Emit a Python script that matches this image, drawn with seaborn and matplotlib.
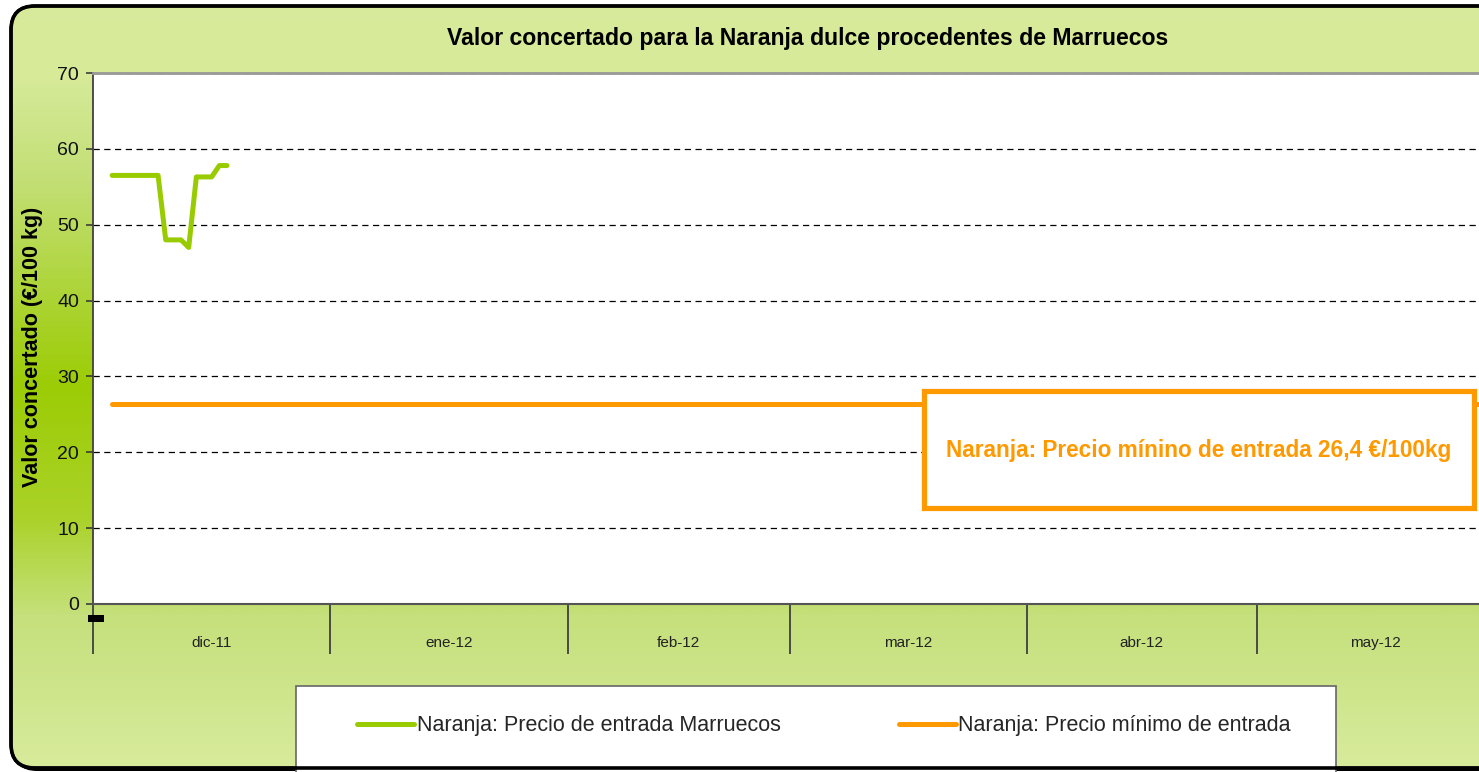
import numpy as np
import pandas as pd
import matplotlib
matplotlib.use("Agg")
import matplotlib.pyplot as plt
import matplotlib.dates as mdates
from matplotlib.patches import Rectangle, FancyBboxPatch
from matplotlib.colors import LinearSegmentedColormap
import seaborn as sns

# data
price_dates = ["2011-12-03", "2011-12-04", "2011-12-05", "2011-12-06", "2011-12-07",
               "2011-12-08", "2011-12-09", "2011-12-10", "2011-12-11", "2011-12-12",
               "2011-12-13", "2011-12-14", "2011-12-15", "2011-12-16", "2011-12-17",
               "2011-12-18"]
price_values = [56.5, 56.5, 56.5, 56.5, 56.5, 56.5, 56.5, 48.0, 48.0, 48.0,
                47.0, 56.3, 56.3, 56.3, 57.8, 57.8]
min_dates = ["2011-12-03", "2012-05-31"]
min_values = [26.4, 26.4]
month_starts = ["2011-12-01", "2012-01-01", "2012-02-01", "2012-03-01",
                "2012-04-01", "2012-05-01", "2012-06-01"]
month_labels = ["dic-11", "ene-12", "feb-12", "mar-12", "abr-12", "may-12"]
y_ticks = [0, 10, 20, 30, 40, 50, 60, 70]

title = "Valor concertado para la Naranja dulce procedentes de Marruecos"
y_label = "Valor concertado (€/100 kg)"
label_price = "Naranja: Precio de entrada Marruecos"
label_min = "Naranja: Precio mínimo de entrada"
note = "Naranja: Precio mínino de entrada 26,4 €/100kg"

GREEN = "#99CC00"
ORANGE = "#FF9900"

sns.set_theme(style="white")
plt.rcParams['font.family'] = ['Liberation Sans', 'DejaVu Sans']

W, H = 1479, 772
fig = plt.figure(figsize=(W / 100, H / 100), dpi=100)
fig.patch.set_facecolor("white")

# background: rounded frame with vertical green gradient
bg = fig.add_axes([0, 0, 1, 1], zorder=-1)
bg.set_xlim(0, W)
bg.set_ylim(H, 0)
bg.axis("off")
shadow = FancyBboxPatch((13, 9), 1500, 762, boxstyle="round,pad=0,rounding_size=24",
                        facecolor="black", edgecolor="none")
bg.add_patch(shadow)
frame = FancyBboxPatch((11, 6), 1500, 762, boxstyle="round,pad=0,rounding_size=24",
                       facecolor="none", edgecolor="black", linewidth=2.2, zorder=3)
bg.add_patch(frame)
cmap = LinearSegmentedColormap.from_list("bg", [
    (0.0, "#d8eb9c"), (0.1, "#d6ea98"), (0.23, "#c3df76"), (0.5, "#9ccc05"),
    (0.67, "#aad228"), (0.8, "#c5e07c"), (1.0, "#d8eb9c")])
grad = np.linspace(0, 1, 400).reshape(-1, 1)
im = bg.imshow(grad, cmap=cmap, aspect="auto", extent=[0, W, H, 0], zorder=1)
im.set_clip_path(frame)

# plot area
left, right, top, bottom = 93, 1494, 73, 604
ax = fig.add_axes([left / W, (H - bottom) / H, (right - left) / W, (bottom - top) / H])
ax.set_facecolor("white")

df_price = pd.DataFrame({"fecha": pd.to_datetime(price_dates) + pd.Timedelta(hours=12),
                         "valor": price_values})
df_min = pd.DataFrame({"fecha": pd.to_datetime(min_dates) + pd.Timedelta(hours=12),
                       "valor": min_values})
sns.lineplot(data=df_price, x="fecha", y="valor", ax=ax, color=GREEN, linewidth=3.6,
             label=label_price, solid_capstyle="round", solid_joinstyle="round", zorder=4)
sns.lineplot(data=df_min, x="fecha", y="valor", ax=ax, color=ORANGE, linewidth=3.6,
             label=label_min, solid_capstyle="round", zorder=4)
handles, labels = ax.get_legend_handles_labels()
if ax.get_legend() is not None:
    ax.get_legend().remove()

starts = pd.to_datetime(month_starts)
ax.set_xlim(starts[0], starts[-1])
ax.set_ylim(0, 70)
ax.set_yticks(y_ticks)
ax.set_yticklabels([str(v) for v in y_ticks])
ax.yaxis.grid(True, linestyle=(0, (5, 3.6)), color="black", linewidth=0.9)
ax.xaxis.grid(False)

ax.set_xticks(mdates.date2num(starts))
ax.set_xticklabels([""] * len(starts))
mids = mdates.date2num(starts[:-1]) + np.diff(mdates.date2num(starts)) / 2
ax.set_xticks(mids, minor=True)
ax.set_xticklabels(month_labels, minor=True, fontsize=11, color="#222222")
ax.tick_params(axis="x", which="major", length=36, width=1.3, color="#404040",
               direction="out", bottom=True)
ax.tick_params(axis="x", which="minor", length=0, pad=23)
ax.tick_params(axis="y", length=5, width=1.1, color="#303030", direction="out",
               left=True, labelsize=14, pad=5, labelcolor="#111111")

ax.set_xlabel("")
ax.set_ylabel(y_label, fontsize=15.5, fontweight="bold", color="black")
ax.yaxis.set_label_coords((43 - left) / (right - left), 0.484)

for side in ["left", "bottom", "top", "right"]:
    ax.spines[side].set_visible(True)
    ax.spines[side].set_zorder(5)
ax.spines["left"].set_color("#404040")
ax.spines["left"].set_linewidth(1.3)
ax.spines["bottom"].set_color("#555555")
ax.spines["bottom"].set_linewidth(1.5)
ax.spines["top"].set_color("#999999")
ax.spines["top"].set_linewidth(2)
ax.spines["right"].set_color("#999999")

fig.text(808 / W, 1 - 38 / H, title, ha="center", va="center",
         fontsize=16.6, fontweight="bold", color="black")

# overlay: legend box, note box
ov = fig.add_axes([0, 0, 1, 1], zorder=5)
ov.set_xlim(0, W)
ov.set_ylim(H, 0)
ov.axis("off")
ov.patch.set_alpha(0)
ov.add_patch(Rectangle((296, 686), 1040, 90, facecolor="white",
                       edgecolor="#666666", linewidth=1.2, zorder=1))
ov.add_patch(Rectangle((88, 615), 16, 7, facecolor="black", edgecolor="none", zorder=1))
ov.add_patch(Rectangle((924, 391), 550, 117, facecolor="white",
                       edgecolor=ORANGE, linewidth=3.75, zorder=1))
ov.text(1199, 450, note, ha="center", va="center", fontsize=16.3,
        fontweight="bold", color=ORANGE, zorder=2)
# redraw frame bottom over legend box edge
ov.add_patch(FancyBboxPatch((11, 6), 1500, 762, boxstyle="round,pad=0,rounding_size=24",
                            facecolor="none", edgecolor="black", linewidth=2.6, zorder=3))
ov.legend(handles, labels, loc="center", bbox_to_anchor=(824, 726),
          bbox_transform=ov.transData, ncol=2, frameon=False, fontsize=15.5,
          handlelength=2.65, handletextpad=0.1, columnspacing=5.5)

fig.savefig("out.png", dpi=100)
